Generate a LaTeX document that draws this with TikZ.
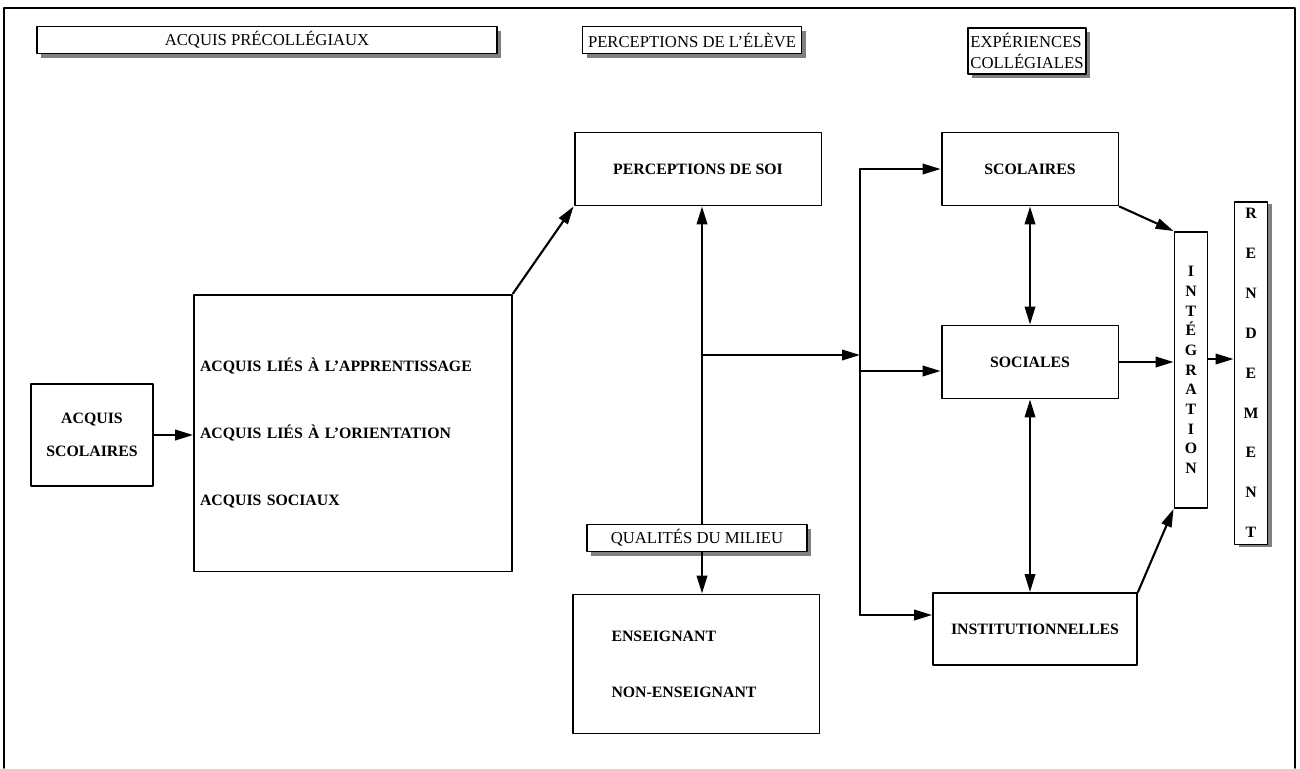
\documentclass[tikz,border=0pt]{standalone}
\usepackage{fontspec}
\setmainfont{Liberation Serif}
\usetikzlibrary{arrows.meta, calc, shadows}

\begin{document}
\begin{tikzpicture}[line cap=round,line join=round,x=0.02cm,y=-0.02cm,
    boite/.style={draw, line width=1.1pt, fill=white, inner sep=0pt, align=center, font=\bfseries\fontsize{9}{11}\selectfont},
    titre/.style={draw, line width=1.1pt, fill=white, inner sep=0pt, align=center, font=\fontsize{9.5}{11}\selectfont,
        drop shadow={opacity=1, shadow xshift=2.4pt, shadow yshift=-2.4pt}},
    fleche/.style={line width=1.2pt, -{Triangle[length=3.6mm, width=2.1mm]}},
    double fleche/.style={line width=1.2pt, {Triangle[length=3.6mm, width=2.1mm]}-{Triangle[length=3.6mm, width=2.1mm]}}]
    \useasboundingbox (0,0) rectangle (1300,768);

    % Frame
    \draw[line width=0.9pt] (4,768) -- (4,8) -- (1295,8) -- (1295,768);

    % Headers
    \draw (267,40) node[titre, minimum width=9.2cm, minimum height=0.54cm] (hAcquis) {ACQUIS PRÉCOLLÉGIAUX};
    \draw (692,40) node[titre, minimum width=4.38cm, minimum height=0.54cm] (hPercep) {PERCEPTIONS DE L'ÉLÈVE};
    \draw (1027,51) node[titre, minimum width=2.36cm, minimum height=0.92cm, align=left, font=\fontsize{9.5}{12}\selectfont] (hExper) {EXPÉRIENCES\\COLLÉGIALES};

    % Acquis
    \draw (92,435) node[boite, minimum width=2.44cm, minimum height=2.04cm] (scol) {ACQUIS\\[8pt]SCOLAIRES};
    \draw (353,433) node[boite, minimum width=6.36cm, minimum height=5.54cm, inner xsep=0.12cm, text width=6.12cm, align=left] (acq)
        {ACQUIS LIÉS À L'APPRENTISSAGE\\[27pt]ACQUIS LIÉS À L'ORIENTATION\\[27pt]ACQUIS SOCIAUX};

    % Perceptions and milieu
    \draw (698,169) node[boite, minimum width=4.94cm, minimum height=1.46cm] (soi) {PERCEPTIONS DE SOI};
    \draw (697,538) node[titre, minimum width=4.4cm, minimum height=0.54cm] (qual) {QUALITÉS DU MILIEU};
    \draw (696,664) node[boite, minimum width=4.94cm, minimum height=2.78cm, inner xsep=0.78cm, text width=3.38cm, align=left] (ens)
        {ENSEIGNANT\\[21pt]NON-ENSEIGNANT};

    % Experiences
    \draw (1030,169) node[boite, minimum width=3.54cm, minimum height=1.46cm] (scolaires) {SCOLAIRES};
    \draw (1030,362) node[boite, minimum width=3.54cm, minimum height=1.46cm] (sociales) {SOCIALES};
    \draw (1035,629) node[boite, minimum width=4.08cm, minimum height=1.44cm] (instit) {INSTITUTIONNELLES};

    % Integration and rendement
    \draw (1191,370) node[boite, minimum width=0.66cm, minimum height=5.52cm, font=\bfseries\fontsize{9}{11.2}\selectfont] (integ)
        {I\\N\\T\\É\\G\\R\\A\\T\\I\\O\\N};
    \draw (1251,373) node[boite, minimum width=0.66cm, minimum height=6.86cm, font=\bfseries\fontsize{9}{22.7}\selectfont,
        drop shadow={opacity=1, shadow xshift=2.8pt, shadow yshift=-1.5pt}] (rend)
        {R\\E\\N\\D\\E\\M\\E\\N\\T};

    \coordinate (tronc) at (702,355);
    \coordinate (jonc) at (860,355);

    % Edges
    \draw[fleche] (scol.east) -- (scol.east -| acq.west);
    \foreach \source/\target in {acq.north east/soi.south west, tronc/jonc,
            scolaires.south east/integ.north west, instit.north east/integ.south west} {
            \draw[fleche] (\source) -- (\target);
        }
    \draw[fleche] (qual.north -| tronc) -- (soi.south -| tronc);
    \draw[fleche] (qual.south -| tronc) -- (ens.north -| tronc);
    \draw[line width=1.2pt] (jonc |- scolaires.west) -- ($(jonc |- instit.west)+(0,-14)$);
    \draw[fleche] (jonc |- scolaires.west) -- (scolaires.west);
    \draw[fleche] ($(jonc |- sociales.west)+(0,9)$) -- ($(sociales.west)+(0,9)$);
    \draw[fleche] ($(jonc |- instit.west)+(0,-14)$) -- ($(instit.west)+(0,-14)$);
    \draw[double fleche] (scolaires.south) -- (scolaires.south |- sociales.north);
    \draw[double fleche] (sociales.south) -- (sociales.south |- instit.north);
    \draw[fleche] (sociales.east) -- (sociales.east -| integ.west);
    \draw[fleche] ($(integ.east)+(0,-11)$) -- ($(integ.east -| rend.west)+(0,-11)$);
\end{tikzpicture}
\end{document}
